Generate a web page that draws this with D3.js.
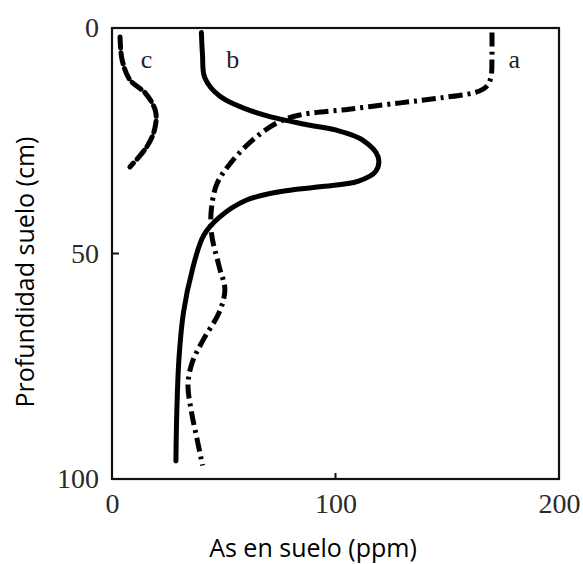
<!DOCTYPE html>
<html>
<head>
<meta charset="utf-8">
<script src="https://cdn.jsdelivr.net/npm/d3@7"></script>
<style>
  html, body { margin: 0; padding: 0; background: #fff; }
  svg { display: block; }
</style>
</head>
<body>
<svg id="chart" width="583" height="564"></svg>
<script>
// Arsenic concentration (ppm) versus soil depth (cm) for three profiles
const xTicks = [0, 100, 200];
const yTicks = [0, 50, 100];

// Profile a (dash-dot): [As ppm, depth cm]
const profileA = [
  [170, 1], [170, 6], [169.5, 11], [167.5, 13], [163, 14.2], [147, 15.5],
  [129, 16.6], [106, 18], [84, 19.3], [74, 21], [63, 24.8], [53, 30],
  [47, 34.5], [44.5, 40], [44.5, 45.5], [48, 53], [50.5, 58], [48, 63],
  [41, 69], [36, 74], [34, 79], [35.5, 85], [38, 91], [40.5, 97]
];
// Profile b (solid)
const profileB = [
  [40, 1], [40.5, 6], [41.5, 11], [48, 15], [66, 19], [88, 21.5],
  [100, 22.6], [112, 24.8], [119, 28.5], [118, 31.8], [110, 34],
  [93, 35.2], [75, 36.3], [60, 38.2], [48, 42], [41, 46], [36, 53.5],
  [32, 63], [30, 73], [29, 85], [28.6, 96]
];
// Profile c (dashed)
const profileC = [
  [3.6, 2], [4.5, 7], [8, 11.5], [15, 14.5], [19.5, 18.5], [19, 22.6],
  [15.5, 26.4], [8, 30.8]
];

const labels = [
  { text: "a", x: 180, y: 7 },
  { text: "b", x: 54, y: 7 },
  { text: "c", x: 15.5, y: 7 }
];

const svg = d3.select("#chart");
const plotLeft = 112, plotRight = 559, plotTop = 28, plotBottom = 479;

const x = d3.scaleLinear().domain([0, 200]).range([plotLeft, plotRight]);
const y = d3.scaleLinear().domain([0, 100]).range([plotTop, plotBottom]);

const line = d3.line()
  .x(d => x(d[0]))
  .y(d => y(d[1]))
  .curve(d3.curveCatmullRom.alpha(0.5));

const serif = "'Liberation Serif', 'DejaVu Serif', serif";
const sans = "'Open Sans', 'Liberation Sans', sans-serif";

// Frame
svg.append("rect")
  .attr("x", plotLeft).attr("y", plotTop)
  .attr("width", plotRight - plotLeft).attr("height", plotBottom - plotTop)
  .attr("fill", "none").attr("stroke", "#111").attr("stroke-width", 2.2);

// Axes (inward ticks at the midpoint only)
const xAxis = d3.axisBottom(x).tickValues(xTicks).tickSize(0).tickPadding(14)
  .tickFormat(d3.format("d"));
const gx = svg.append("g").attr("transform", `translate(0,${plotBottom})`).call(xAxis);
gx.select(".domain").remove();
gx.selectAll("text").attr("font-family", serif).attr("font-size", 28).attr("fill", "#2a2a2a");

const yAxis = d3.axisLeft(y).tickValues(yTicks).tickSize(0).tickPadding(13)
  .tickFormat(d3.format("d"));
const gy = svg.append("g").attr("transform", `translate(${plotLeft},0)`).call(yAxis);
gy.select(".domain").remove();
gy.selectAll("text").attr("font-family", serif).attr("font-size", 28).attr("fill", "#2a2a2a");

svg.append("line")
  .attr("x1", plotLeft).attr("x2", plotLeft + 7)
  .attr("y1", y(50)).attr("y2", y(50))
  .attr("stroke", "#111").attr("stroke-width", 2);
svg.append("line")
  .attr("x1", x(100)).attr("x2", x(100))
  .attr("y1", plotBottom).attr("y2", plotBottom - 6)
  .attr("stroke", "#111").attr("stroke-width", 2);

// Profiles
svg.append("path").datum(profileB).attr("d", line)
  .attr("fill", "none").attr("stroke", "#000").attr("stroke-width", 5)
  .attr("stroke-linecap", "round");
svg.append("path").datum(profileA).attr("d", line)
  .attr("fill", "none").attr("stroke", "#000").attr("stroke-width", 5)
  .attr("stroke-dasharray", "14 5 3 5");
svg.append("path").datum(profileC).attr("d", line)
  .attr("fill", "none").attr("stroke", "#000").attr("stroke-width", 5)
  .attr("stroke-dasharray", "11 5")
  .attr("stroke-linecap", "round");

// Curve labels
svg.selectAll(".curve-label").data(labels).enter().append("text")
  .attr("class", "curve-label")
  .attr("x", d => x(d.x)).attr("y", d => y(d.y))
  .attr("font-family", serif).attr("font-size", 26).attr("fill", "#222")
  .attr("text-anchor", "middle").attr("dominant-baseline", "central")
  .text(d => d.text);

// Axis titles
svg.append("text")
  .attr("x", 313).attr("y", 557)
  .attr("text-anchor", "middle")
  .attr("font-family", sans).attr("font-size", 25).attr("fill", "#000")
  .text("As en suelo (ppm)");
svg.append("text")
  .attr("transform", "translate(34,272) rotate(-90)")
  .attr("text-anchor", "middle")
  .attr("font-family", sans).attr("font-size", 25).attr("fill", "#000")
  .text("Profundidad suelo (cm)");
</script>
</body>
</html>
